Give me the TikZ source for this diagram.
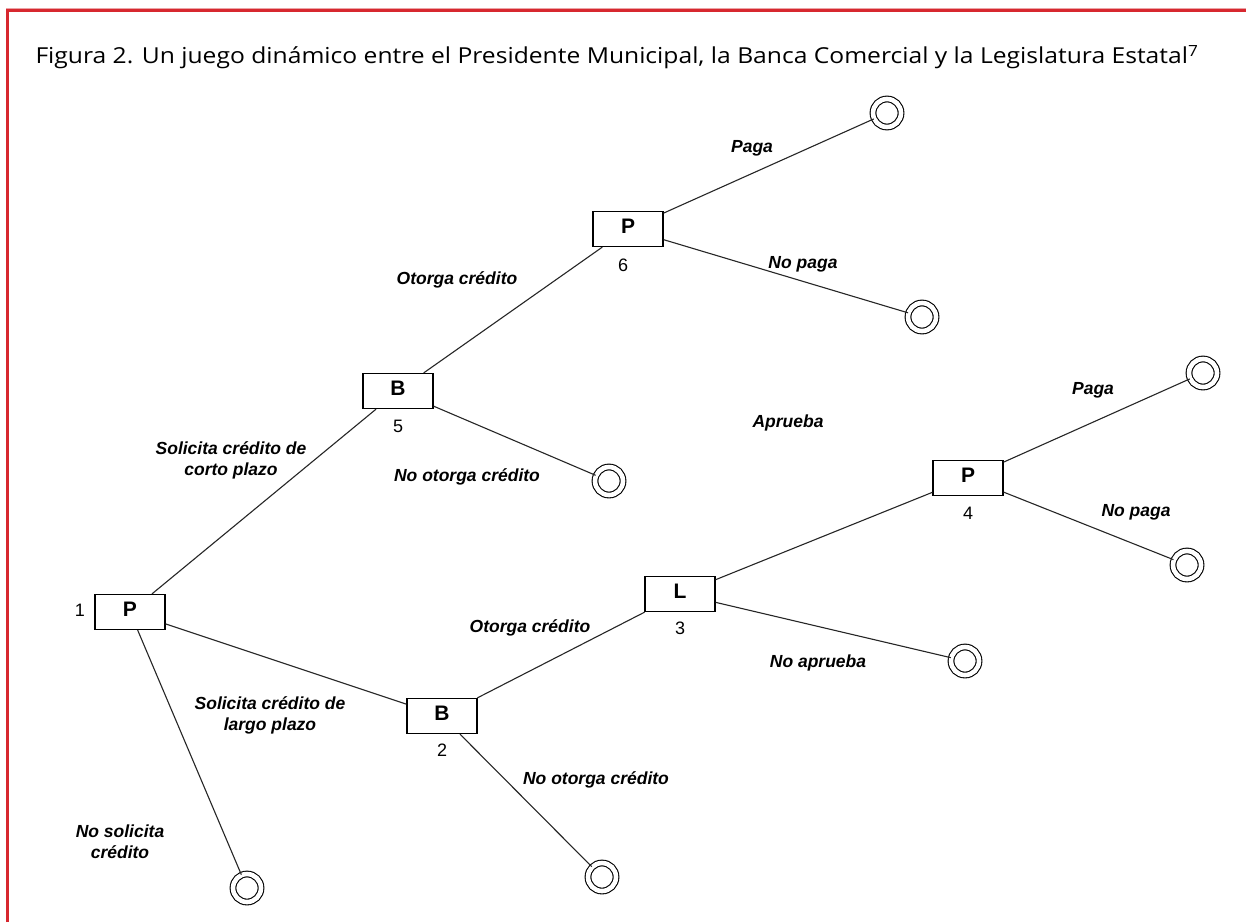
\documentclass[tikz,border=0pt]{standalone}
\usepackage{fontspec}
\usepackage{graphicx}
\newfontfamily\titlefont{Open Sans}
\newfontfamily\arialfont{Liberation Sans}
\definecolor{framered}{HTML}{D7282F}
\definecolor{framepink}{HTML}{EBA3A6}
\tikzset{
  player/.style={draw, line width=1.3pt, minimum width=70pt, minimum height=35pt, inner sep=0pt,
                 font=\arialfont\bfseries\fontsize{21}{21}\selectfont},
  term/.style={circle, draw, line width=1.1pt, double, double distance=4.6pt, minimum size=28pt, inner sep=0pt},
  nlabel/.style={font=\arialfont\fontsize{18}{18}\selectfont, inner sep=0pt},
  elabel/.style={font=\arialfont\bfseries\itshape\fontsize{17.5}{21}\selectfont, align=center, inner sep=0pt},
  edge/.style={line width=1.1pt, draw=black!85}
}
\newcommand{\boxletter}[1]{\raisebox{5pt}{#1}}
\begin{document}
\begin{tikzpicture}[x=1pt,y=-1pt]
\useasboundingbox (0,0) rectangle (1246,922);
\fill[white] (0,0) rectangle (1246,922);
% frame
\draw[framepink, line width=1pt] (6,8) -- (1246,8);
\draw[framered, line width=3pt] (7.5,922) -- (7.5,10) -- (1246,10);
% title
\node[font=\titlefont\fontsize{22}{24}\selectfont, inner sep=0pt] (title) at (617,57)
  {\scalebox{1.12}[1]{Figura 2. Un juego din\'amico entre el Presidente Municipal, la Banca Comercial y la Legislatura Estatal\textsuperscript{7}}};
% decision nodes
\node[player] (p1) at (130,612) {\boxletter{P}};
\node[player] (b2) at (442,716) {\boxletter{B}};
\node[player] (l3) at (680,594) {\boxletter{L}};
\node[player] (p4) at (968,478) {\boxletter{P}};
\node[player] (b5) at (398,391) {\boxletter{B}};
\node[player] (p6) at (628,229) {\boxletter{P}};
% numbers
\node[nlabel] (n1) at (80,610) {1};
\node[nlabel] (n2) at (442,750) {2};
\node[nlabel] (n3) at (680,628) {3};
\node[nlabel] (n4) at (968,513) {4};
\node[nlabel] (n5) at (398,426) {5};
\node[nlabel] (n6) at (623,265) {6};
% terminal nodes
\node[term] (t6a) at (887,113) {};
\node[term] (t6b) at (922,317) {};
\node[term] (t5) at (609,481) {};
\node[term] (t4a) at (1203,373) {};
\node[term] (t4b) at (1187,565) {};
\node[term] (t3) at (965,661) {};
\node[term] (t2) at (602,877) {};
\node[term] (t1) at (247,888) {};
% edges
\draw[edge] (p1) -- (b5);
\draw[edge] (p1) -- (b2);
\draw[edge] (p1) -- (t1);
\draw[edge] (b5) -- (p6);
\draw[edge] (b5) -- (t5);
\draw[edge] (p6) -- (t6a);
\draw[edge] (p6) -- (t6b);
\draw[edge] (b2) -- (l3);
\draw[edge] (b2) -- (t2);
\draw[edge] (l3) -- (p4);
\draw[edge] (l3) -- (t3);
\draw[edge] (p4) -- (t4a);
\draw[edge] (p4) -- (t4b);
% edge labels
\node[elabel] (la) at (752,148) {Paga};
\node[elabel] (lb) at (803,264) {No paga};
\node[elabel] (lc) at (457,280) {Otorga cr\'edito};
\node[elabel] (ld) at (231,460) {Solicita cr\'edito de\\corto plazo};
\node[elabel] (le) at (467,477) {No otorga cr\'edito};
\node[elabel] (lf) at (788,423) {Aprueba};
\node[elabel] (lg) at (1093,390) {Paga};
\node[elabel] (lh) at (1136,512) {No paga};
\node[elabel] (li) at (530,628) {Otorga cr\'edito};
\node[elabel] (lj) at (818,663) {No aprueba};
\node[elabel] (lk) at (270,715) {Solicita cr\'edito de\\largo plazo};
\node[elabel] (ll) at (596,780) {No otorga cr\'edito};
\node[elabel] (lm) at (120,842) {No solicita\\cr\'edito};
\end{tikzpicture}
\end{document}
